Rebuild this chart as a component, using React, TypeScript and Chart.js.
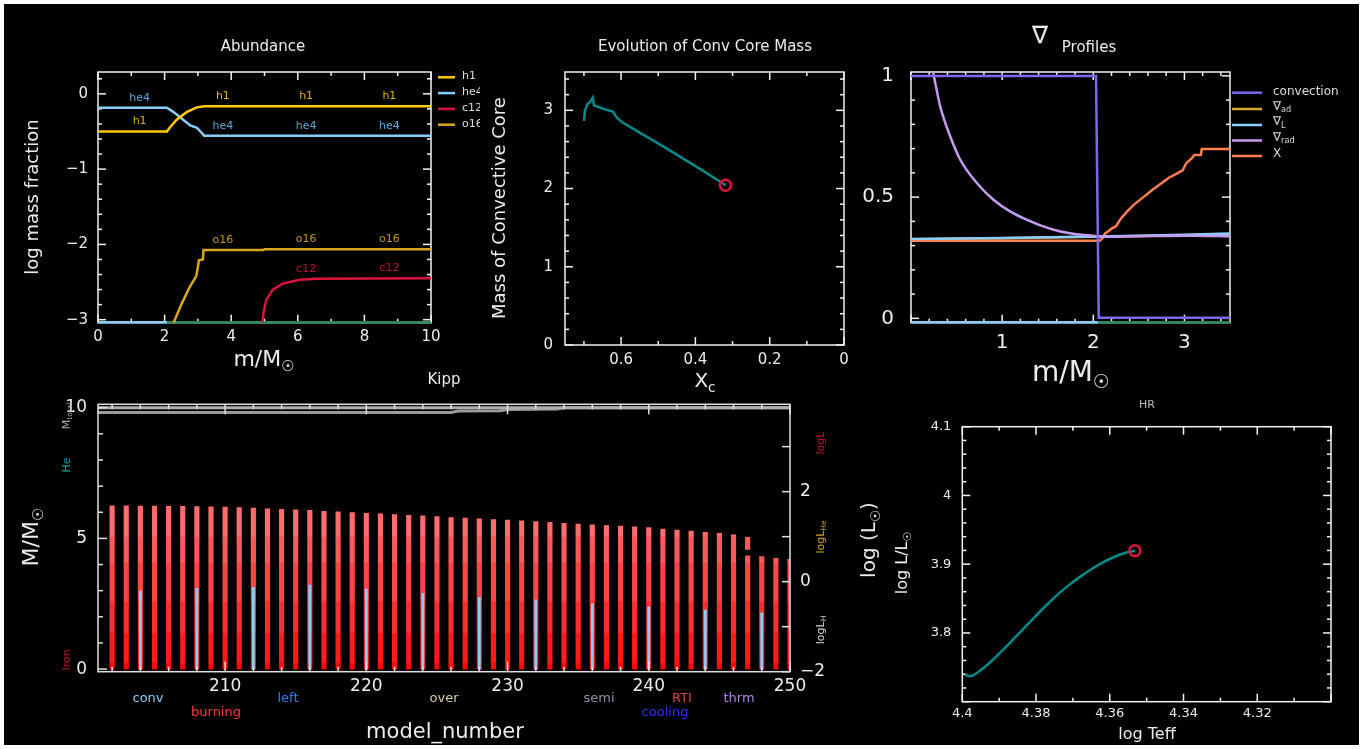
import React, { useEffect, useRef } from 'react';
import { Chart, registerables } from 'chart.js';

Chart.register(...registerables);

const FONT = '"DejaVu Sans", "Liberation Sans", sans-serif';
const WHITE = '#ececec';

// ================= Abundance panel =================
const abH1Mass = [0, 2.07, 2.17, 2.37, 2.67, 2.97, 3.19, 10];
const abH1Log = [-0.5, -0.5, -0.44, -0.34, -0.24, -0.18, -0.164, -0.164];
const abHe4Mass = [0, 2.07, 2.27, 2.52, 2.77, 2.97, 3.19, 10];
const abHe4Log = [-0.185, -0.185, -0.243, -0.331, -0.419, -0.45, -0.556, -0.556];
const abO16Mass = [2.27, 2.5, 2.75, 2.95, 3.0, 3.03, 3.15, 3.17, 4.97, 5.0, 10];
const abO16Log = [-3.04, -2.8, -2.57, -2.42, -2.3, -2.21, -2.2, -2.075, -2.075, -2.065, -2.065];
const abC12Mass = [4.94, 4.97, 5.05, 5.25, 5.55, 6.05, 6.55, 10];
const abC12Log = [-3.04, -2.91, -2.74, -2.6, -2.52, -2.47, -2.455, -2.45];
const abFloorBlueMass = [0, 2.07];
const abFloorGreenMass = [2.07, 10];
const abFloorLog = [-3.035, -3.035];
const abLabelMass = [3.75, 6.25, 8.75];
const abFirstLabelMass = 1.25;
const abXTicks = [0, 2, 4, 6, 8, 10];
const abYTicks = [-3, -2, -1, 0];
const abLegend = ['h1', 'he4', 'c12', 'o16'];

// ================= Convective core mass panel =================
const ccXc = [0.7, 0.697, 0.691, 0.684, 0.676, 0.673, 0.648, 0.621, 0.612, 0.598, 0.558, 0.513, 0.468, 0.423, 0.378, 0.348, 0.319];
const ccMass = [2.865, 3.0, 3.078, 3.107, 3.163, 3.065, 3.018, 2.98, 2.908, 2.85, 2.738, 2.612, 2.484, 2.354, 2.222, 2.132, 2.043];
const ccXTicks = [0.6, 0.4, 0.2, 0];
const ccYTicks = [0, 1, 2, 3];

// ================= Nabla profiles panel =================
const nbConvMass = [0, 2.03, 2.06, 3.5];
const nbConv = [1.0, 1.0, 0.002, 0.002];
const nbRadMass = [0.242, 0.322, 0.432, 0.542, 0.725, 0.908, 1.091, 1.275, 1.458, 1.64, 1.82, 2.007, 2.08, 2.227, 2.37, 2.74, 3.106, 3.5];
const nbRad = [1.016, 0.872, 0.749, 0.653, 0.557, 0.488, 0.44, 0.406, 0.378, 0.358, 0.347, 0.34, 0.337, 0.336, 0.338, 0.34, 0.341, 0.338];
const nbGradMass = [0, 0.5, 1, 1.5, 2, 2.5, 3, 3.5];
const nbGradL = [0.327, 0.329, 0.331, 0.334, 0.338, 0.341, 0.345, 0.35];
const nbGradAd = [0.326, 0.328, 0.33, 0.333, 0.337, 0.34, 0.343, 0.346];
const nbXMass = [0, 2.07, 2.1, 2.13, 2.17, 2.2, 2.25, 2.3, 2.37, 2.45, 2.55, 2.65, 2.74, 2.83, 2.92, 2.98, 3.02, 3.08, 3.11, 3.18, 3.19, 3.5];
const nbX = [0.32, 0.32, 0.33, 0.35, 0.36, 0.37, 0.38, 0.41, 0.44, 0.47, 0.5, 0.53, 0.555, 0.58, 0.598, 0.61, 0.64, 0.66, 0.674, 0.674, 0.698, 0.698];
const nbFloorBlueMass = [0, 2.05];
const nbFloorGreenMass = [2.05, 3.5];
const nbFloor = [-0.016, -0.016];
const nbXTicks = [1, 2, 3];
const nbYTicks = [0, 0.5, 1];

// ================= Kippenhahn panel =================
const kpModels = [202, 203, 204, 205, 206, 207, 208, 209, 210, 211, 212, 213, 214, 215, 216, 217, 218, 219, 220, 221, 222, 223, 224, 225, 226, 227, 228, 229, 230, 231, 232, 233, 234, 235, 236, 237, 238, 239, 240, 241, 242, 243, 244, 245, 246, 247, 248, 249, 250];
const kpTop = [6.25, 6.25, 6.24, 6.24, 6.23, 6.23, 6.22, 6.21, 6.2, 6.18, 6.16, 6.13, 6.11, 6.09, 6.07, 6.04, 6.02, 5.99, 5.96, 5.94, 5.91, 5.88, 5.86, 5.83, 5.8, 5.78, 5.75, 5.72, 5.7, 5.67, 5.64, 5.61, 5.58, 5.55, 5.52, 5.49, 5.47, 5.44, 5.41, 5.36, 5.32, 5.28, 5.23, 5.19, 5.14, 5.04, 4.3, 4.24, 4.2];
const kpBurnEdges = [0, 0.22, 1.37, 2.58, 4.04, 5.06, 20];
const kpBurnColors = ['#ff0606', '#ff1a1a', '#ff2e2e', '#ff4444', '#ff5858', '#ff6c6c'];
const kpGapModels = [247];
const kpGapLo = [4.36];
const kpGapHi = [4.55];
const kpConvModels = [204, 208, 212, 216, 220, 224, 228, 232, 236, 240, 244, 248];
const kpConvTop = [2.99, 3.09, 3.13, 3.21, 3.06, 2.9, 2.74, 2.64, 2.51, 2.38, 2.26, 2.15];
const kpMtotModels = [201, 250];
const kpMtot = [10.0, 10.0];
const kpHeModels = [201, 226, 226.5, 229.5, 230, 233.5, 234, 250];
const kpHeMass = [9.82, 9.82, 9.87, 9.88, 9.93, 9.95, 10.0, 10.0];
const kpXTicks = [210, 220, 230, 240, 250];
const kpYTicks = [0, 5, 10];
const kpY2Ticks = [-2, 0, 2];

// ================= HR panel =================
const hrTeff = [4.3993, 4.398, 4.395, 4.392, 4.389, 4.386, 4.383, 4.38, 4.377, 4.374, 4.371, 4.368, 4.365, 4.362, 4.359, 4.356, 4.3532];
const hrLum = [3.7397, 3.737, 3.746, 3.7595, 3.7751, 3.7916, 3.8084, 3.8252, 3.8414, 3.8564, 3.8699, 3.8819, 3.8927, 3.9023, 3.9101, 3.9162, 3.9195];
const hrXTicks = [4.4, 4.38, 4.36, 4.34, 4.32];
const hrYTicks = [3.8, 3.9, 4, 4.1];

// ================= helpers =================
type Part = { t: string; sub?: boolean };
type TextItem = {
  x?: number; y?: number; data?: [number, number]; xs?: string; ys?: string; dx?: number; dy?: number;
  parts: Part[]; size: number; color?: string; rot?: number; align?: 'left' | 'center' | 'right';
};
type LineItem = { x1: number; y1: number; x2: number; y2: number; color: string; width?: number };
type TickSpec = { scale: string; sides: string[]; major: number; minor: number; majLen?: number; minLen?: number };

const zip = (xs: number[], ys: number[]) => xs.map((x, i) => ({ x, y: ys[i] }));
const fmt = (v: number) => String(+(+v).toFixed(4)).replace('-', '\u2212');
const P = (t: string): Part[] => [{ t }];
function interp(xs: number[], ys: number[], x: number) {
  for (let i = 0; i < xs.length - 1; i++) {
    if (x >= xs[i] && x <= xs[i + 1]) {
      const d = xs[i + 1] - xs[i] || 1;
      return ys[i] + ((x - xs[i]) / d) * (ys[i + 1] - ys[i]);
    }
  }
  return ys[ys.length - 1];
}

function drawRich(ctx: CanvasRenderingContext2D, it: TextItem, x: number, y: number) {
  ctx.save();
  ctx.translate(x, y);
  if (it.rot) ctx.rotate((it.rot * Math.PI) / 180);
  ctx.fillStyle = it.color || WHITE;
  ctx.textBaseline = 'middle';
  ctx.textAlign = 'left';
  const sz = (p: Part) => (p.sub ? it.size * 0.68 : it.size);
  const widths = it.parts.map((p) => {
    ctx.font = `${sz(p)}px ${FONT}`;
    return ctx.measureText(p.t).width;
  });
  const total = widths.reduce((a, b) => a + b, 0);
  let cx = it.align === 'left' ? 0 : it.align === 'right' ? -total : -total / 2;
  it.parts.forEach((p, i) => {
    ctx.font = `${sz(p)}px ${FONT}`;
    ctx.fillText(p.t, cx, p.sub ? it.size * 0.32 : 0);
    cx += widths[i];
  });
  ctx.restore();
}

function annotPlugin(ox: number, oy: number, items: TextItem[], lines: LineItem[] = []) {
  return {
    id: 'annot',
    afterDraw(chart: any) {
      const ctx: CanvasRenderingContext2D = chart.ctx;
      ctx.save();
      for (const l of lines) {
        ctx.strokeStyle = l.color;
        ctx.lineWidth = l.width ?? 2.5;
        ctx.beginPath();
        ctx.moveTo(l.x1 - ox, l.y1 - oy);
        ctx.lineTo(l.x2 - ox, l.y2 - oy);
        ctx.stroke();
      }
      for (const it of items) {
        let x: number, y: number;
        if (it.data) {
          x = chart.scales[it.xs ?? 'x'].getPixelForValue(it.data[0]) + (it.dx ?? 0);
          y = chart.scales[it.ys ?? 'y'].getPixelForValue(it.data[1]) + (it.dy ?? 0);
        } else {
          x = (it.x as number) - ox;
          y = (it.y as number) - oy;
        }
        drawRich(ctx, it, x, y);
      }
      ctx.restore();
    },
  };
}

function framePlugin(specs: TickSpec[], layer: 'before' | 'after', color = '#f2f2f2', lw = 1.5) {
  const draw = (chart: any) => {
    const ctx: CanvasRenderingContext2D = chart.ctx;
    const a = chart.chartArea;
    ctx.save();
    ctx.strokeStyle = color;
    ctx.lineWidth = lw;
    for (const s of specs) {
      const sc = chart.scales[s.scale];
      const lo = Math.min(sc.min, sc.max);
      const hi = Math.max(sc.min, sc.max);
      const i0 = Math.ceil(lo / s.minor - 1e-6);
      const i1 = Math.floor(hi / s.minor + 1e-6);
      for (let i = i0; i <= i1; i++) {
        const v = i * s.minor;
        const r = v / s.major;
        const isMaj = Math.abs(r - Math.round(r)) < 1e-6;
        const len = isMaj ? s.majLen ?? 8 : s.minLen ?? 4;
        const p = sc.getPixelForValue(v);
        for (const side of s.sides) {
          ctx.beginPath();
          if (side === 'bottom') { ctx.moveTo(p, a.bottom); ctx.lineTo(p, a.bottom - len); }
          else if (side === 'top') { ctx.moveTo(p, a.top); ctx.lineTo(p, a.top + len); }
          else if (side === 'left') { ctx.moveTo(a.left, p); ctx.lineTo(a.left + len, p); }
          else { ctx.moveTo(a.right, p); ctx.lineTo(a.right - len, p); }
          ctx.stroke();
        }
      }
    }
    ctx.strokeRect(a.left, a.top, a.right - a.left, a.bottom - a.top);
    ctx.restore();
  };
  return {
    id: 'frame',
    beforeDatasetsDraw(chart: any) { if (layer === 'before') draw(chart); },
    afterDatasetsDraw(chart: any) { if (layer === 'after') draw(chart); },
  };
}

function axis(kind: 'x' | 'y', min: number, max: number, tickVals: number[], size: number, pad: number, extent: number, extra: any = {}) {
  return {
    type: 'linear',
    min,
    max,
    bounds: 'data',
    offset: false,
    reverse: !!extra.reverse,
    position: extra.position || (kind === 'x' ? 'bottom' : 'left'),
    grid: { display: false, drawTicks: false },
    border: { display: false },
    ticks: {
      color: WHITE,
      font: { family: FONT, size },
      padding: pad,
      autoSkip: false,
      maxRotation: 0,
      minRotation: 0,
      callback: (v: number) => fmt(v),
    },
    afterBuildTicks: (s: any) => { s.ticks = tickVals.map((v) => ({ value: v })); },
    afterFit: (s: any) => {
      if (kind === 'x') { s.height = extent; s.paddingLeft = 0; s.paddingRight = 0; }
      else { s.width = extent; s.paddingTop = 0; s.paddingBottom = 0; }
    },
  };
}

const baseOpts = (padTop: number, padRight: number) => ({
  responsive: false,
  animation: false,
  devicePixelRatio: 1,
  events: [],
  layout: { padding: { top: padTop, right: padRight, left: 0, bottom: 0 } },
  plugins: { legend: { display: false }, tooltip: { enabled: false }, title: { display: false } },
});

// NOTE: Chart.js draws the first dataset on top, so datasets are listed top-most first.
const line = (data: any[], color: string, width = 2.5, extra: any = {}) => ({
  type: 'line',
  data,
  borderColor: color,
  backgroundColor: color,
  borderWidth: width,
  pointRadius: 0,
  tension: 0,
  fill: false,
  ...extra,
});

type Rect = { l: number; t: number; w: number; h: number };

function ChartCanvas({ rect, make }: { rect: Rect; make: () => any }) {
  const ref = useRef<HTMLCanvasElement>(null);
  useEffect(() => {
    const chart = new Chart(ref.current as HTMLCanvasElement, make());
    return () => chart.destroy();
  }, []);
  return (
    <canvas
      ref={ref}
      width={rect.w}
      height={rect.h}
      style={{ position: 'absolute', left: rect.l, top: rect.t, width: rect.w, height: rect.h }}
    />
  );
}

// ================= panel configs =================
const AB_RECT: Rect = { l: 5, t: 20, w: 475, h: 358 };
const CC_RECT: Rect = { l: 480, t: 20, w: 380, h: 376 };
const NB_RECT: Rect = { l: 860, t: 15, w: 498, h: 383 };
const KP_RECT: Rect = { l: 5, t: 372, w: 845, h: 373 };
const HR_RECT: Rect = { l: 850, t: 396, w: 508, h: 349 };

const H1C = '#ffcc00', HE4C = '#87cefa', C12C = '#dc143c', O16C = '#daa520';

function makeAbundance() {
  const r = AB_RECT;
  const labelItems: TextItem[] = [];
  const add = (m: number, xs: number[], ys: number[], t: string, color: string) =>
    labelItems.push({ data: [m, interp(xs, ys, m)], dy: -10, parts: P(t), size: 11, color });
  add(abFirstLabelMass, abHe4Mass, abHe4Log, 'he4', '#5fa8d8');
  add(abFirstLabelMass, abH1Mass, abH1Log, 'h1', '#e0b000');
  abLabelMass.forEach((m) => {
    add(m, abH1Mass, abH1Log, 'h1', '#e0b000');
    add(m, abHe4Mass, abHe4Log, 'he4', '#5fa8d8');
    add(m, abO16Mass, abO16Log, 'o16', '#c8921e');
  });
  abLabelMass.slice(1).forEach((m) => add(m, abC12Mass, abC12Log, 'c12', '#c01034'));
  const legColors = [H1C, HE4C, C12C, O16C];
  const legLines: LineItem[] = abLegend.map((_, i) => ({ x1: 438, x2: 455, y1: 77.3 + i * 15.8, y2: 77.3 + i * 15.8, color: legColors[i] }));
  const legText: TextItem[] = abLegend.map((t, i) => ({ x: 462, y: 76.5 + i * 15.8, parts: P(t), size: 11, align: 'left', color: '#dddddd' }));
  const items: TextItem[] = [
    { x: 263, y: 47, parts: P('Abundance'), size: 15 },
    { x: 33, y: 197, parts: P('log mass fraction'), size: 18, rot: -90 },
    { x: 264, y: 360, parts: [{ t: 'm/M' }, { t: '\u2609', sub: true }], size: 22 },
    ...labelItems,
    ...legText,
  ];
  const plotL = 98, plotT = 72, plotR = 431, plotB = 322.7;
  return {
    type: 'line',
    data: {
      datasets: [
        line(zip(abH1Mass, abH1Log), H1C),
        line(zip(abHe4Mass, abHe4Log), HE4C),
        line(zip(abC12Mass, abC12Log), C12C),
        line(zip(abO16Mass, abO16Log), O16C),
        line(zip(abFloorGreenMass, abFloorLog), '#2e8b57', 2.5, { clip: 4 }),
        line(zip(abFloorBlueMass, abFloorLog), HE4C, 2.5, { clip: 4 }),
      ],
    },
    options: {
      ...baseOpts(plotT - r.t, r.l + r.w - plotR),
      scales: {
        x: axis('x', 0, 10, abXTicks, 15, 5, r.t + r.h - plotB),
        y: axis('y', -3.04, 0.29, abYTicks, 15, 10, plotL - r.l),
      },
    },
    plugins: [
      framePlugin([
        { scale: 'x', sides: ['bottom', 'top'], major: 2, minor: 1 },
        { scale: 'y', sides: ['left', 'right'], major: 1, minor: 0.2 },
      ], 'before'),
      annotPlugin(r.l, r.t, items, legLines),
    ],
  };
}

function makeConvCore() {
  const r = CC_RECT;
  const plotL = 565, plotT = 72, plotR = 844, plotB = 345;
  const n = ccXc.length - 1;
  const items: TextItem[] = [
    { x: 705, y: 47, parts: P('Evolution of Conv Core Mass'), size: 15 },
    { x: 500, y: 208, parts: P('Mass of Convective Core'), size: 18, rot: -90 },
    { x: 705, y: 382, parts: [{ t: 'X' }, { t: 'c', sub: true }], size: 20 },
  ];
  return {
    type: 'line',
    data: {
      datasets: [
        {
          type: 'scatter',
          data: [{ x: ccXc[n], y: ccMass[n] }],
          pointRadius: 5.5,
          pointBorderWidth: 2.5,
          borderColor: '#dc143c',
          pointBorderColor: '#dc143c',
          backgroundColor: 'rgba(0,0,0,0)',
          pointBackgroundColor: 'rgba(0,0,0,0)',
        },
        line(zip(ccXc, ccMass), '#008b8b', 2.5),
      ],
    },
    options: {
      ...baseOpts(plotT - r.t, r.l + r.w - plotR),
      scales: {
        x: axis('x', 0, 0.751, ccXTicks, 15, 6, r.t + r.h - plotB, { reverse: true }),
        y: axis('y', 0, 3.49, ccYTicks, 15, 12, plotL - r.l),
      },
    },
    plugins: [
      framePlugin([
        { scale: 'x', sides: ['bottom', 'top'], major: 0.2, minor: 0.1 },
        { scale: 'y', sides: ['left', 'right'], major: 1, minor: 0.2 },
      ], 'before'),
      annotPlugin(r.l, r.t, items),
    ],
  };
}

function makeNabla() {
  const r = NB_RECT;
  const plotL = 911, plotT = 72, plotR = 1230, plotB = 322.7;
  const legColors = ['#7b68ee', O16C, HE4C, '#c59bf0', '#ff7f50'];
  const legY = [92.7, 109, 125, 140.5, 156];
  const legLines: LineItem[] = legColors.map((c, i) => ({ x1: 1232, x2: 1262, y1: legY[i], y2: legY[i], color: c }));
  const legLabels: Part[][] = [
    P('convection'),
    [{ t: '\u2207' }, { t: 'ad', sub: true }],
    [{ t: '\u2207' }, { t: 'L', sub: true }],
    [{ t: '\u2207' }, { t: 'rad', sub: true }],
    P('X'),
  ];
  const legTextY = [91.5, 106.5, 122, 137.5, 154];
  const items: TextItem[] = [
    { x: 1040, y: 37, parts: P('\u2207'), size: 24 },
    { x: 1089, y: 48, parts: P('Profiles'), size: 15 },
    { x: 1071, y: 374, parts: [{ t: 'm/M' }, { t: '\u2609', sub: true }], size: 28 },
    ...legLabels.map((parts, i) => ({ x: 1273, y: legTextY[i], parts, size: 12, align: 'left' as const, color: '#dddddd' })),
  ];
  return {
    type: 'line',
    data: {
      datasets: [
        line(zip(nbConvMass, nbConv), '#7b68ee', 2.5, { clip: 4 }),
        line(zip(nbRadMass, nbRad), '#c59bf0', 2.5, { cubicInterpolationMode: 'monotone' }),
        line(zip(nbGradMass, nbGradL), HE4C),
        line(zip(nbXMass, nbX), '#ff7f50'),
        line(zip(nbGradMass, nbGradAd), O16C),
        line(zip(nbFloorGreenMass, nbFloor), '#2e8b57', 2.5, { clip: 4 }),
        line(zip(nbFloorBlueMass, nbFloor), HE4C, 2.5, { clip: 4 }),
      ],
    },
    options: {
      ...baseOpts(plotT - r.t, r.l + r.w - plotR),
      scales: {
        x: axis('x', 0, 3.5, nbXTicks, 20, 8, r.t + r.h - plotB),
        y: axis('y', -0.018, 1.016, nbYTicks, 20, 17, plotL - r.l),
      },
    },
    plugins: [
      framePlugin([
        { scale: 'x', sides: ['bottom', 'top'], major: 1, minor: 0.2 },
        { scale: 'y', sides: ['left', 'right'], major: 0.5, minor: 0.1 },
      ], 'before'),
      annotPlugin(r.l, r.t, items, legLines),
    ],
  };
}

function makeKipp() {
  const r = KP_RECT;
  const plotL = 98, plotT = 404.3, plotR = 790, plotB = 671.7;
  const bandSets = kpBurnColors.map((color, b) => ({
    type: 'bar',
    data: kpModels
      .map((m, i) => ({ x: m, y: [kpBurnEdges[b], Math.min(kpBurnEdges[b + 1], kpTop[i])] }))
      .filter((d) => d.y[1] > d.y[0]),
    backgroundColor: color,
    borderWidth: 0,
    barThickness: 4.5,
    grouped: false,
    yAxisID: 'y',
  }));
  const gapSet = {
    type: 'bar',
    data: kpGapModels.map((m, i) => ({ x: m, y: [kpGapLo[i], kpGapHi[i]] })),
    backgroundColor: '#000000',
    borderWidth: 0,
    barThickness: 7,
    grouped: false,
    yAxisID: 'y',
  };
  const convSet = {
    type: 'bar',
    data: kpConvModels.map((m, i) => ({ x: m, y: [0, kpConvTop[i]] })),
    backgroundColor: '#87cefa',
    borderWidth: 0,
    barThickness: 2.2,
    grouped: false,
    yAxisID: 'y',
  };
  const rowLabels: TextItem[] = [
    { x: 148, y: 699, parts: P('conv'), size: 13, color: '#87cefa' },
    { x: 216, y: 713, parts: P('burning'), size: 13, color: '#ff3a3a' },
    { x: 288, y: 699, parts: P('left'), size: 13, color: '#2a7fff' },
    { x: 444, y: 699, parts: P('over'), size: 13, color: '#d8d0a8' },
    { x: 599, y: 699, parts: P('semi'), size: 13, color: '#8a96a8' },
    { x: 682, y: 699, parts: P('RTI'), size: 13, color: '#d04848' },
    { x: 665, y: 713, parts: P('cooling'), size: 13, color: '#3030ff' },
    { x: 739, y: 699, parts: P('thrm'), size: 13, color: '#b585e8' },
  ];
  const items: TextItem[] = [
    { x: 444, y: 380, parts: P('Kipp'), size: 15 },
    { x: 32, y: 537, parts: [{ t: 'M/M' }, { t: '\u2609', sub: true }], size: 22, rot: -90 },
    { x: 67, y: 660, parts: P('Iron'), size: 11, rot: -90, color: '#c0102a' },
    { x: 67, y: 465, parts: P('He'), size: 11, rot: -90, color: '#00a0a0' },
    { x: 67, y: 416, parts: [{ t: 'M' }, { t: 'total', sub: true }], size: 11, rot: -90, color: '#a8a8a8' },
    { x: 821, y: 443, parts: P('logL'), size: 11, rot: -90, color: '#c0102a' },
    { x: 821, y: 537, parts: [{ t: 'logL' }, { t: 'He', sub: true }], size: 11, rot: -90, color: '#c8a020' },
    { x: 821, y: 630, parts: [{ t: 'logL' }, { t: 'H', sub: true }], size: 11, rot: -90, color: '#d0d0d0' },
    { x: 445, y: 733, parts: P('model_number'), size: 21 },
    ...rowLabels,
  ];
  return {
    type: 'bar',
    data: {
      datasets: [
        line(zip(kpMtotModels, kpMtot), '#b0b0b0', 3, { yAxisID: 'y' }),
        line(zip(kpHeModels, kpHeMass), '#9a9a9a', 3, { yAxisID: 'y' }),
        convSet,
        gapSet,
        ...bandSets,
      ],
    },
    options: {
      ...baseOpts(plotT - r.t, 0),
      scales: {
        x: axis('x', 201, 250, kpXTicks, 17, 5, r.t + r.h - plotB),
        y: axis('y', -0.1, 10.13, kpYTicks, 17, 11, plotL - r.l),
        y2: axis('y', -2, 3.94, kpY2Ticks, 17, 10, r.l + r.w - plotR, { position: 'right' }),
      },
    },
    plugins: [
      framePlugin([
        { scale: 'x', sides: ['bottom', 'top'], major: 10, minor: 2, majLen: 10, minLen: 5 },
        { scale: 'y', sides: ['left'], major: 5, minor: 1, majLen: 9, minLen: 5 },
        { scale: 'y2', sides: ['right'], major: 1, minor: 1, majLen: 8 },
      ], 'after', '#e0e0e0', 1.5),
      annotPlugin(r.l, r.t, items),
    ],
  };
}

function makeHR() {
  const r = HR_RECT;
  const plotL = 962.3, plotT = 426.7, plotR = 1331, plotB = 701.7;
  const n = hrTeff.length - 1;
  const items: TextItem[] = [
    { x: 1147, y: 405, parts: P('HR'), size: 11, color: '#bdbdbd' },
    { x: 903, y: 563, parts: [{ t: 'log L/L' }, { t: '\u2609', sub: true }], size: 16, rot: -90 },
    { x: 870, y: 540, parts: [{ t: 'log (L' }, { t: '\u2609', sub: true }, { t: ')' }], size: 20, rot: -90 },
    { x: 1147, y: 735, parts: P('log Teff'), size: 16 },
  ];
  return {
    type: 'line',
    data: {
      datasets: [
        {
          type: 'scatter',
          data: [{ x: hrTeff[n], y: hrLum[n] }],
          pointRadius: 5.5,
          pointBorderWidth: 2.5,
          borderColor: '#dc143c',
          pointBorderColor: '#dc143c',
          backgroundColor: 'rgba(0,0,0,0)',
          pointBackgroundColor: 'rgba(0,0,0,0)',
        },
        line(zip(hrTeff, hrLum), '#008b8b', 2.5, { cubicInterpolationMode: 'monotone' }),
      ],
    },
    options: {
      ...baseOpts(plotT - r.t, r.l + r.w - plotR),
      scales: {
        x: axis('x', 4.3, 4.4, hrXTicks, 13, 4, r.t + r.h - plotB, { reverse: true }),
        y: axis('y', 3.7, 4.1, hrYTicks, 13, 11, plotL - r.l),
      },
    },
    plugins: [
      framePlugin([
        { scale: 'x', sides: ['bottom', 'top'], major: 0.02, minor: 0.01 },
        { scale: 'y', sides: ['left', 'right'], major: 0.1, minor: 0.02 },
      ], 'before'),
      annotPlugin(r.l, r.t, items),
    ],
  };
}

export default function App() {
  return (
    <div style={{ position: 'fixed', left: 0, top: 0, width: 1363, height: 749, background: '#ffffff', overflow: 'hidden' }}>
      <div style={{ position: 'absolute', left: 4, top: 4, width: 1355, height: 741, background: '#000000' }} />
      <ChartCanvas rect={AB_RECT} make={makeAbundance} />
      <ChartCanvas rect={CC_RECT} make={makeConvCore} />
      <ChartCanvas rect={NB_RECT} make={makeNabla} />
      <ChartCanvas rect={KP_RECT} make={makeKipp} />
      <ChartCanvas rect={HR_RECT} make={makeHR} />
    </div>
  );
}
